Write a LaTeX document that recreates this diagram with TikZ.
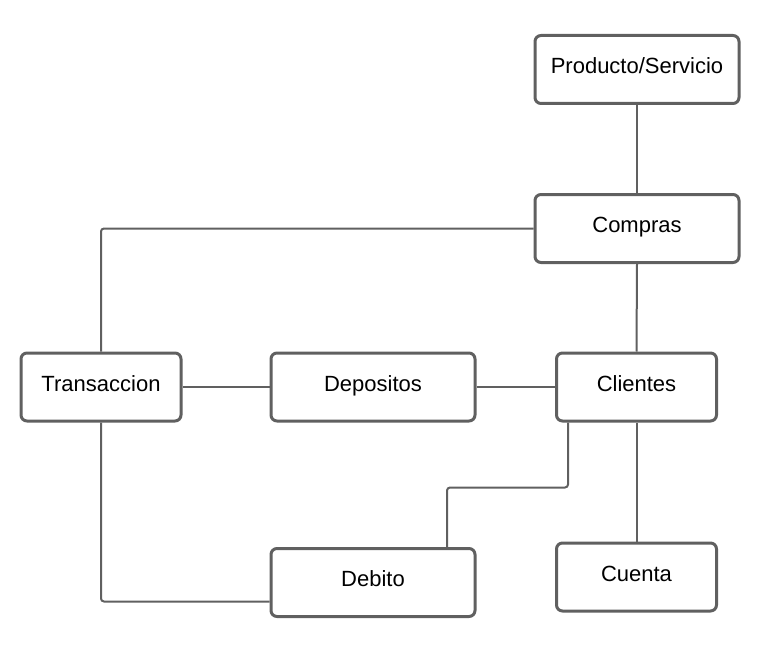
\documentclass[tikz,border=0pt]{standalone}
\usepackage{fontspec}
\setmainfont{Liberation Sans}
\usetikzlibrary{positioning}
\definecolor{linegray}{RGB}{96,96,96}

\tikzset{
  entity/.style={draw=linegray, line width=3pt, rounded corners=6pt, fill=white,
    minimum height=68pt, inner sep=0pt, text height=16pt, text depth=8pt,
    font=\fontsize{22}{26}\selectfont},
  wide/.style={entity, minimum width=204pt},
  narrow/.style={entity, minimum width=160pt},
  conn/.style={draw=linegray, line width=2pt, rounded corners=3pt}
}

\begin{document}
\begin{tikzpicture}[x=1pt, y=-1pt]
\useasboundingbox (0,0) rectangle (774,658);

\node[wide] (prod) at (637,69.5) {Producto/Servicio};
\node[wide] (comp) at (637,228.5) {Compras};
\node[narrow] (tran) at (101,387) {Transaccion};
\node[wide] (depo) at (373,387) {Depositos};
\node[narrow] (clie) at (636.5,387) {Clientes};
\node[wide] (debi) at (373,582.5) {Debito};
\node[narrow] (cuen) at (636.5,577) {Cuenta};

\draw[conn] (prod.south) -- (comp.north);
\draw[conn] (comp.west) -| (tran.north);
\draw[conn] (comp.south) -- (clie.north);
\draw[conn] (tran.east) -- (depo.west);
\draw[conn] (depo.east) -- (clie.west);
\draw[conn] (clie.south) -- (cuen.north);
\draw[conn] ([xshift=13pt]clie.south west) -- ++(0,65) -| ([xshift=74pt]debi.north);
\draw[conn] (tran.south) |- ([yshift=-19pt]debi.west);

\end{tikzpicture}
\end{document}
